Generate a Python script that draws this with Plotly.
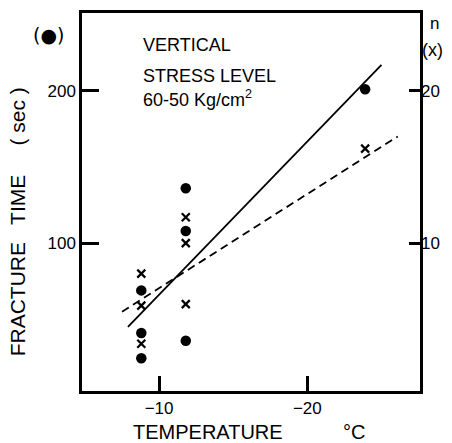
import plotly.graph_objects as go

# ---- data ----
temp_dots = [-8.8, -8.8, -8.8, -11.8, -11.8, -11.8, -23.9]
time_dots = [69, 41, 24.5, 136, 108, 36, 201]          # fracture time (sec)
temp_cross = [-8.8, -8.8, -8.8, -11.8, -11.8, -11.8, -23.9]
n_cross = [8.0, 5.9, 3.4, 11.7, 10.0, 6.0, 16.2]        # n
fit_time_x = [-7.9, -25.0]
fit_time_y = [45, 217]
fit_n_x = [-7.5, -26.1]
fit_n_y = [5.5, 17.0]
x_ticks = [-10, -20]
x_ticktext = ["\u221210", "\u221220"]
y_ticks = [100, 200]
y2_ticks = [10, 20]

FONT = "Liberation Sans"
BLACK = "#000000"

W, H = 452, 443
L, R, T, B = 82, 420, 10, 391


def px(x):
    return (x - L) / (R - L)


def py(y):
    return (B - y) / (B - T)


fig = go.Figure()
fig.add_trace(go.Scatter(x=fit_time_x, y=fit_time_y, mode="lines",
                         line=dict(color=BLACK, width=1.8), yaxis="y", showlegend=False))
fig.add_trace(go.Scatter(x=fit_n_x, y=fit_n_y, mode="lines",
                         line=dict(color=BLACK, width=1.8, dash="8px,5px"), yaxis="y2", showlegend=False))
fig.add_trace(go.Scatter(x=temp_dots, y=time_dots, mode="markers",
                         marker=dict(symbol="circle", size=10.5, color=BLACK), yaxis="y", showlegend=False))
fig.add_trace(go.Scatter(x=temp_cross, y=n_cross, mode="markers",
                         marker=dict(symbol="x-thin", size=8, line=dict(color=BLACK, width=2.2)),
                         yaxis="y2", showlegend=False))

ann = []


def add(text, x, y, size=18, xanchor="center", angle=0, family=FONT):
    ann.append(dict(text=text, x=px(x), y=py(y), xref="paper", yref="paper",
                    xanchor=xanchor, yanchor="middle", showarrow=False, textangle=angle,
                    font=dict(family=family, size=size, color=BLACK)))


add("(\u25cf)", 48, 32, size=19, family="DejaVu Sans")
add("n", 434, 21, size=17)
add("(x)", 432, 47, size=18)
add("VERTICAL", 141, 42, size=18, xanchor="left")
add("STRESS LEVEL", 141, 74, size=18, xanchor="left")
add("60-50 Kg/cm<sup>2</sup>", 141, 96, size=18, xanchor="left")
add("TEMPERATURE", 208, 432, size=20)
add("\u00b0C", 354, 432, size=20)
add("FRACTURE   TIME     ( sec )", 17, 221, size=21, angle=-90)

fig.update_layout(
    width=W, height=H,
    margin=dict(l=L, r=W - R, t=T, b=H - B),
    paper_bgcolor="white", plot_bgcolor="white",
    showlegend=False,
    annotations=ann,
    xaxis=dict(range=[-4.8, -27.6], tickvals=x_ticks, ticktext=x_ticktext,
               ticks="inside", ticklen=15, tickwidth=2.5, tickcolor=BLACK,
               showline=True, linewidth=2.5, linecolor=BLACK, mirror=True,
               showgrid=False, zeroline=False,
               tickfont=dict(family=FONT, size=17, color=BLACK)),
    yaxis=dict(range=[3, 251], tickvals=y_ticks, ticks="inside", ticklen=17,
               tickwidth=2.5, tickcolor=BLACK,
               showline=True, linewidth=2.5, linecolor=BLACK, mirror=True,
               showgrid=False, zeroline=False,
               tickfont=dict(family=FONT, size=17, color=BLACK)),
    yaxis2=dict(range=[0.3, 25.1], tickvals=y2_ticks, overlaying="y", side="right",
                ticks="inside", ticklen=11, tickwidth=2.5, tickcolor=BLACK,
                showline=False, showgrid=False, zeroline=False,
                tickfont=dict(family=FONT, size=17, color=BLACK)),
)

fig.write_html("out.html", config={"displayModeBar": False},
               post_script="document.body.style.margin='0';document.body.style.overflow='hidden';")
